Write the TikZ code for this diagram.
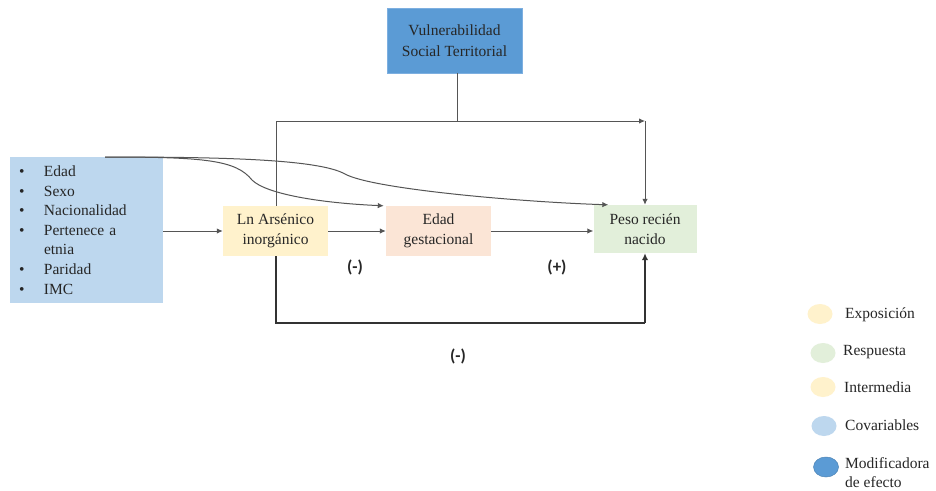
\documentclass[tikz,border=0pt]{standalone}
\usepackage{fontspec}
\setmainfont{Liberation Serif}
\newfontfamily\calib{Carlito}
\usetikzlibrary{arrows.meta,shapes.geometric}
\definecolor{vulblue}{HTML}{5B9BD5}
\definecolor{vuledge}{HTML}{7DAFE0}
\definecolor{covblue}{HTML}{BDD7EE}
\definecolor{expo}{HTML}{FFF2CC}
\definecolor{interm}{HTML}{FBE5D6}
\definecolor{resp}{HTML}{E2EFDA}
\definecolor{txt}{HTML}{262626}
\definecolor{lncol}{HTML}{555555}
\definecolor{thickcol}{HTML}{333333}
\begin{document}
\begin{tikzpicture}[x=1pt,y=-1pt,
  box/.style={inner sep=0pt, align=center, text=txt,
    font=\fontsize{15.5}{20.5}\selectfont},
  conn/.style={draw=lncol, line width=1pt},
  arr/.style={conn, -{Latex[length=6pt,width=5.5pt]}},
  thick conn/.style={draw=thickcol, line width=2.2pt},
  sign/.style={inner sep=0pt, text=txt, font=\calib\bfseries\fontsize{17}{19}\selectfont},
  legdot/.style={ellipse, inner sep=0pt, minimum width=25pt, minimum height=20pt},
  legtxt/.style={anchor=west, inner sep=0pt, align=left, text=txt,
    font=\fontsize{15.5}{18.5}\selectfont}
]
\useasboundingbox[fill=white] (0,0) rectangle (936,490);

% coordinates of the frame lines
\coordinate (tj) at (457,121);
\coordinate (tl) at (276,121);
\coordinate (tr) at (645,121);
\coordinate (bl) at (276,323);
\coordinate (br) at (645,323);
\coordinate (cs) at (105,157);

% background lines (covered by the boxes)
\draw[conn] (tl) -- (bl);

% boxes
\node[box, fill=vulblue, draw=vuledge, line width=0.6pt, minimum width=135pt, minimum height=65pt]
  (vul) at (454.5,40.5) {Vulnerabilidad\\Social Territorial};
\node[box, fill=covblue, minimum width=153pt, minimum height=146pt, align=left,
  text width=135pt, inner xsep=9pt, font=\fontsize{15.5}{19.6}\selectfont]
  (cov) at (86.5,230) {\makebox[25pt][l]{\textbullet}Edad\\
  \makebox[25pt][l]{\textbullet}Sexo\\
  \makebox[25pt][l]{\textbullet}Nacionalidad\\
  \makebox[25pt][l]{\textbullet}Pertenece a\\
  \makebox[25pt][l]{}etnia\\
  \makebox[25pt][l]{\textbullet}Paridad\\
  \makebox[25pt][l]{\textbullet}IMC};
\node[box, fill=expo, minimum width=105pt, minimum height=50pt]
  (ln) at (275.5,231) {Ln Arsénico\\inorgánico};
\node[box, fill=interm, minimum width=105pt, minimum height=50pt]
  (edad) at (438.5,231) {Edad\\gestacional};
\node[box, fill=resp, minimum width=103pt, minimum height=48pt]
  (peso) at (645,229) {Peso recién\\nacido};

% signs
\node[sign] (m1) at (355,267) {(-)};
\node[sign] (p1) at (557,267) {(+)};
\node[sign] (m2) at (458,356) {(-)};

% connectors
\draw[conn] (tj |- vul.south) -- (tj);
\draw[conn] (tl) -- (tj);
\draw[arr] (tj) -- (tr);
\draw[arr] (tr) -- (peso.north);
\draw[arr] (cov.east |- ln.west) -- (ln.west);
\draw[arr] (ln.east) -- (edad.west);
\draw[arr] (edad.east) -- (edad.east -| peso.west);
\draw[thick conn] (ln.south -| bl) -- (bl) -- (br);
\draw[thick conn, -{Latex[length=7pt,width=6.5pt]}] (br) -- (peso.south);

% curved connectors from covariables
\draw[arr] (cs) .. controls (220,157) and (318,159) .. (345,174)
  .. controls (372,189) and (520,202) .. ([xshift=15pt]peso.north west);
\draw[arr] (cs) .. controls (205,157) and (236,160) .. (252,180)
  .. controls (266,194) and (320,203) .. ([xshift=-2pt]edad.north west);

% legend
\node[legdot, fill=expo] (l1) at (820,314) {};
\node[legtxt] (t1) at (845,315) {Exposición};
\node[legdot, fill=resp] (l2) at (823,353) {};
\node[legtxt] (t2) at (843,352) {Respuesta};
\node[legdot, fill=expo] (l3) at (823,387) {};
\node[legtxt] (t3) at (844,387) {Intermedia};
\node[legdot, fill=covblue] (l4) at (824,426) {};
\node[legtxt] (t4) at (845,425) {Covariables};
\node[legdot, fill=vulblue, draw=vulblue!85!black, line width=0.5pt] (l5) at (826,467) {};
\node[legtxt] (t5) at (845,472.5) {Modificadora\\de efecto};
\end{tikzpicture}
\end{document}
